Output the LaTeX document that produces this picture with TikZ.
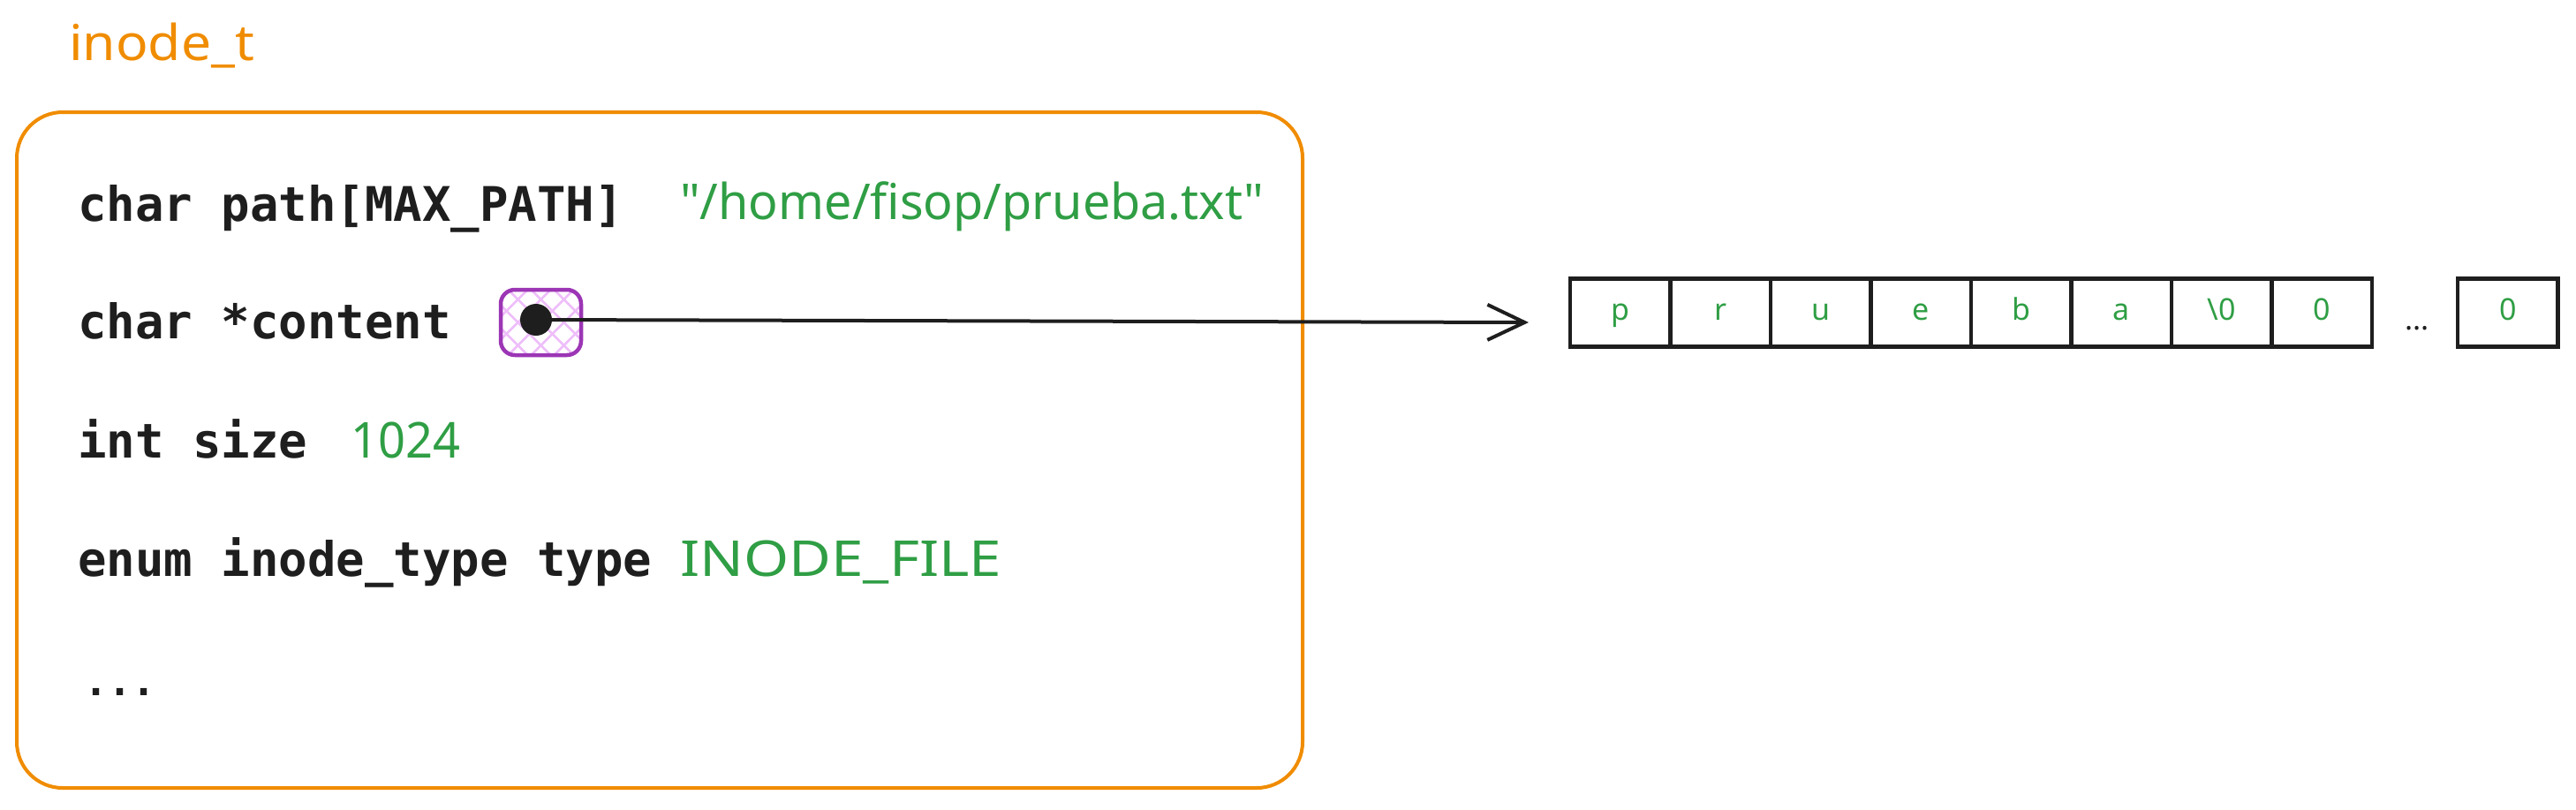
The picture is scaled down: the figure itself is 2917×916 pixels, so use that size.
\documentclass[tikz,border=0pt]{standalone}
\usepackage{fontspec}
\usepackage{graphicx}
\usetikzlibrary{arrows.meta}
\setmonofont{DejaVu Sans Mono}
\newfontfamily\handfont{Noto Sans}
\definecolor{ink}{HTML}{1E1E1E}
\definecolor{orng}{HTML}{F08C00}
\definecolor{grn}{HTML}{2F9E44}
\definecolor{purp}{HTML}{9C36B5}
\definecolor{lpurp}{HTML}{EEBEFA}
\newcommand{\fitw}[2]{\resizebox{#1}{\height}{#2}}
\begin{document}
\begin{tikzpicture}[x=1pt,y=-1pt,
  code/.style={anchor=base west, inner sep=0pt, text=ink, font=\ttfamily\bfseries\fontsize{54}{60}\selectfont},
  hand/.style={anchor=base west, inner sep=0pt, text=grn, font=\handfont\fontsize{56}{62}\selectfont},
  cell/.style={draw=ink, line width=4.5pt, minimum width=113.5pt, minimum height=77pt, inner sep=0pt, outer sep=0pt,
    text height=22pt, text depth=6pt, anchor=west, text=grn, font=\handfont\fontsize{34}{40}\selectfont},
  frame/.style={draw=orng, line width=4pt, rounded corners=52pt, inner sep=0pt},
  hatch/.style={draw=lpurp, line width=2.5pt},
]
\useasboundingbox (0,0) rectangle (2917,916);

% title
\node[anchor=base west, inner sep=0pt, text=orng, font=\handfont\fontsize{56}{62}\selectfont] (title) at (78,68) {\fitw{210pt}{inode\_t}};

% main frame
\node[frame, minimum width=1456pt, minimum height=765pt] (box) at (747,509.5) {};

% rows
\node[code] (r1) at (88,250) {char path[MAX\_PATH]};
\node[hand] (v1) at (770,248) {\fitw{661pt}{"/home/fisop/prueba.txt"}};
\node[code] (r2) at (88,383) {char *content};
\node[code] (r3) at (88,518) {int size};
\node[hand] (v3) at (397,518) {\fitw{124pt}{1024}};
\node[code] (r4) at (88,652) {enum inode\_type type};
\node[hand] (v4) at (770,652) {\fitw{364pt}{INODE\_FILE}};
\node[anchor=base west, inner sep=0pt, text=ink, font=\ttfamily\bfseries\fontsize{45}{50}\selectfont] (r5) at (95,787) {...};

% pointer box
\node[draw=purp, line width=4.5pt, rounded corners=16pt, minimum width=91pt, minimum height=74pt, inner sep=0pt,
  path picture={
    \foreach \k in {-5,...,5}{
      \draw[hatch] ([xshift={\k*26pt-60pt}, yshift=60pt]path picture bounding box.center) -- ++(120pt,-120pt);
      \draw[hatch] ([xshift={\k*26pt-60pt}, yshift=-60pt]path picture bounding box.center) -- ++(120pt,120pt);
    }}] (ptr) at (612.5,365) {};
\node[circle, fill=ink, minimum size=36pt, inner sep=0pt] (dot) at (607,362) {};

% array cells
\node[cell] (c1) at (1778,354) {p};
\node[cell] (c2) at (c1.east) {r};
\node[cell] (c3) at (c2.east) {u};
\node[cell] (c4) at (c3.east) {e};
\node[cell] (c5) at (c4.east) {b};
\node[cell] (c6) at (c5.east) {a};
\node[cell] (c7) at (c6.east) {\textbackslash 0};
\node[cell] (c8) at (c7.east) {0};
\node[anchor=base, inner sep=0pt, text=ink, font=\handfont\fontsize{34}{40}\selectfont] (dots) at (2737,373) {...};
\node[cell] (c9) at (2783,354) {0};

% arrow
\coordinate (tip) at (1731,365);
\draw[ink, line width=4pt, -{Straight Barb[length=42pt,width=40pt,line width=4pt]}] (dot.center) -- (tip);
\end{tikzpicture}
\end{document}
